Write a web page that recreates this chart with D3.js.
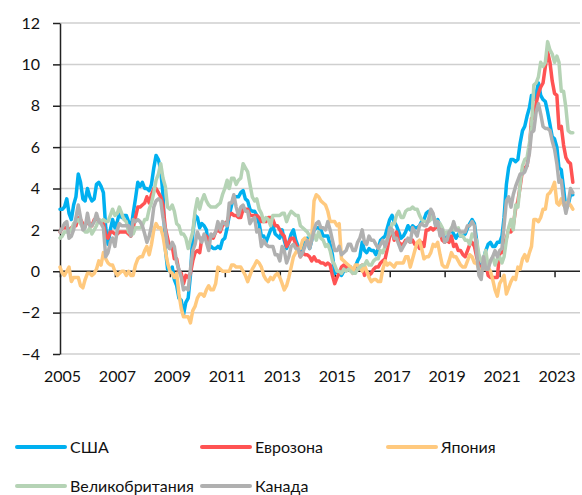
<!DOCTYPE html>
<html>
<head>
<meta charset="utf-8">
<script src="https://cdn.jsdelivr.net/npm/d3@7"></script>
<style>
  html, body { margin: 0; padding: 0; background: #fff; }
  svg { display: block; }
</style>
</head>
<body>
<div id="chart"></div>
<script>
// Monthly CPI, % y/y, from Jan 2005 to Sep 2023
const startYear = 2005;

const usa = [
  3.0, 3.0, 3.1, 3.5, 2.8, 2.5, 3.2, 3.6, 4.7, 4.3, 3.5, 3.4,
  4.0, 3.6, 3.4, 3.5, 4.2, 4.3, 4.1, 3.8, 2.1, 1.3, 2.0, 2.5,
  2.1, 2.4, 2.8, 2.6, 2.7, 2.7, 2.4, 2.0, 2.8, 3.5, 4.3, 4.1,
  4.3, 4.0, 4.0, 3.9, 4.2, 5.0, 5.6, 5.4, 4.9, 3.7, 1.1, 0.1,
  0.0, 0.2, -0.4, -0.7, -1.3, -1.4, -2.1, -1.5, -1.3, -0.2, 1.8, 2.7,
  2.6, 2.1, 2.3, 2.2, 2.0, 1.1, 1.2, 1.1, 1.1, 1.2, 1.1, 1.5,
  1.6, 2.1, 2.7, 3.2, 3.6, 3.6, 3.6, 3.8, 3.9, 3.5, 3.4, 3.0,
  2.9, 2.9, 2.7, 2.3, 1.7, 1.7, 1.4, 1.7, 2.0, 2.2, 1.8, 1.7,
  1.6, 2.0, 1.5, 1.1, 1.4, 1.8, 2.0, 1.5, 1.2, 1.0, 1.2, 1.5,
  1.6, 1.1, 1.5, 2.0, 2.1, 2.1, 2.0, 1.7, 1.7, 1.7, 1.3, 0.8,
  -0.1, 0.0, -0.1, -0.2, 0.0, 0.1, 0.2, 0.2, 0.0, 0.2, 0.5, 0.7,
  1.4, 1.0, 0.9, 1.1, 1.0, 1.0, 0.8, 1.1, 1.5, 1.6, 1.7, 2.1,
  2.5, 2.7, 2.4, 2.2, 1.9, 1.6, 1.7, 1.9, 2.2, 2.0, 2.2, 2.1,
  2.1, 2.2, 2.4, 2.5, 2.8, 2.9, 2.9, 2.7, 2.3, 2.5, 2.2, 1.9,
  1.6, 1.5, 1.9, 2.0, 1.8, 1.6, 1.8, 1.7, 1.7, 1.8, 2.1, 2.3,
  2.5, 2.3, 1.5, 0.3, 0.1, 0.6, 1.0, 1.3, 1.4, 1.2, 1.2, 1.4,
  1.4, 1.7, 2.6, 4.2, 5.0, 5.4, 5.4, 5.3, 5.4, 6.2, 6.8, 7.0,
  7.5, 7.9, 8.5, 8.3, 8.6, 9.1, 8.5, 8.3, 8.2, 7.7, 7.1, 6.5,
  6.4, 6.0, 5.0, 4.9, 4.0, 3.0, 3.2, 3.7, 3.7
];

const eurozone = [
  1.9, 2.1, 2.1, 2.1, 2.0, 2.1, 2.2, 2.2, 2.6, 2.5, 2.3, 2.2,
  2.4, 2.3, 2.2, 2.5, 2.5, 2.5, 2.4, 2.3, 1.7, 1.6, 1.9, 1.9,
  1.8, 1.8, 1.9, 1.9, 1.9, 1.9, 1.8, 1.7, 2.1, 2.6, 3.1, 3.1,
  3.2, 3.3, 3.6, 3.3, 3.7, 4.0, 4.0, 3.8, 3.6, 3.2, 2.1, 1.6,
  1.1, 1.2, 0.6, 0.6, 0.0, -0.1, -0.6, -0.2, -0.3, -0.1, 0.5, 0.9,
  1.0, 0.9, 1.6, 1.6, 1.7, 1.5, 1.7, 1.6, 1.9, 2.0, 1.9, 2.2,
  2.3, 2.4, 2.7, 2.8, 2.7, 2.7, 2.6, 2.6, 3.0, 3.0, 3.0, 2.7,
  2.7, 2.7, 2.7, 2.6, 2.4, 2.4, 2.4, 2.6, 2.6, 2.5, 2.2, 2.2,
  2.0, 1.8, 1.7, 1.2, 1.4, 1.6, 1.6, 1.3, 1.1, 0.7, 0.9, 0.8,
  0.8, 0.7, 0.5, 0.7, 0.5, 0.5, 0.4, 0.4, 0.3, 0.4, 0.3, -0.2,
  -0.6, -0.3, -0.1, 0.2, 0.3, 0.2, 0.2, 0.1, -0.1, 0.1, 0.1, 0.2,
  0.3, -0.2, 0.0, -0.2, -0.1, 0.1, 0.2, 0.2, 0.4, 0.5, 0.6, 1.1,
  1.7, 2.0, 1.5, 1.9, 1.4, 1.3, 1.3, 1.5, 1.5, 1.4, 1.5, 1.3,
  1.3, 1.1, 1.4, 1.2, 2.0, 2.0, 2.1, 2.0, 2.1, 2.3, 1.9, 1.5,
  1.4, 1.5, 1.4, 1.7, 1.2, 1.3, 1.0, 1.0, 0.8, 0.7, 1.0, 1.3,
  1.4, 1.2, 0.7, 0.3, 0.1, 0.3, 0.4, -0.2, -0.3, -0.3, -0.3, -0.3,
  0.9, 0.9, 1.3, 1.6, 2.0, 1.9, 2.2, 3.0, 3.4, 4.1, 4.9, 5.0,
  5.1, 5.9, 7.4, 7.4, 8.1, 8.6, 8.9, 9.1, 9.9, 10.6, 10.1, 9.2,
  8.6, 8.5, 6.9, 7.0, 6.1, 5.5, 5.3, 5.2, 4.3
];

const japan = [
  0.2, -0.1, -0.2, 0.0, 0.2, -0.5, -0.3, -0.3, -0.3, -0.7, -0.8, -0.4,
  -0.1, -0.1, -0.2, -0.1, 0.1, 0.5, 0.3, 0.9, 0.6, 0.4, 0.3, 0.3,
  0.0, -0.2, -0.1, 0.0, 0.0, -0.2, 0.0, -0.2, -0.2, 0.3, 0.6, 0.7,
  0.7, 1.0, 1.2, 0.8, 1.3, 2.0, 2.3, 2.1, 2.1, 1.7, 1.0, 0.4,
  0.0, -0.1, -0.3, -0.1, -1.1, -1.8, -2.2, -2.2, -2.2, -2.5, -1.9, -1.7,
  -1.3, -1.1, -1.1, -1.2, -0.9, -0.7, -0.9, -0.9, -0.6, 0.2, 0.1, 0.0,
  0.0, 0.0, 0.0, 0.3, 0.3, 0.2, 0.2, 0.2, 0.0, -0.2, -0.5, -0.2,
  0.1, 0.3, 0.5, 0.4, 0.2, -0.2, -0.4, -0.5, -0.3, -0.4, -0.2, -0.1,
  -0.3, -0.6, -0.9, -0.7, -0.3, 0.2, 0.7, 0.9, 1.1, 1.1, 1.5, 1.6,
  1.4, 1.5, 1.6, 3.4, 3.7, 3.6, 3.4, 3.3, 3.2, 2.9, 2.4, 2.4,
  2.4, 2.2, 2.3, 0.6, 0.5, 0.4, 0.3, 0.2, 0.0, 0.3, 0.3, 0.2,
  0.0, 0.3, 0.0, -0.3, -0.5, -0.4, -0.4, -0.5, -0.5, 0.1, 0.5, 0.3,
  0.4, 0.3, 0.2, 0.4, 0.4, 0.4, 0.4, 0.7, 0.7, 0.2, 0.6, 1.0,
  1.4, 1.5, 1.1, 0.6, 0.7, 0.7, 0.9, 1.3, 1.2, 1.4, 0.8, 0.3,
  0.2, 0.2, 0.5, 0.9, 0.7, 0.7, 0.5, 0.3, 0.2, 0.2, 0.5, 0.8,
  0.7, 0.4, 0.4, 0.1, 0.1, 0.1, 0.3, 0.2, 0.0, -0.4, -0.9, -1.2,
  -0.6, -0.4, -0.2, -1.1, -0.8, -0.5, -0.3, -0.4, 0.2, 0.1, 0.6, 0.8,
  0.5, 0.9, 1.2, 2.5, 2.5, 2.4, 2.6, 3.0, 3.0, 3.7, 3.8, 4.0,
  4.3, 3.3, 3.2, 3.5, 3.2, 3.3, 3.3, 3.2, 3.0
];

const uk = [
  1.6, 1.7, 1.9, 1.9, 1.9, 2.0, 2.3, 2.4, 2.5, 2.3, 2.1, 1.9,
  1.9, 2.1, 1.8, 2.0, 2.2, 2.5, 2.4, 2.5, 2.4, 2.4, 2.7, 3.0,
  2.7, 2.8, 3.1, 2.8, 2.5, 2.4, 1.9, 1.8, 1.8, 2.1, 2.1, 2.1,
  2.2, 2.5, 2.5, 3.0, 3.3, 3.8, 4.4, 4.7, 5.2, 4.5, 4.1, 3.1,
  3.0, 3.2, 2.9, 2.3, 2.2, 1.8, 1.8, 1.6, 1.1, 1.5, 1.9, 2.9,
  3.5, 3.0, 3.4, 3.7, 3.4, 3.2, 3.1, 3.1, 3.1, 3.2, 3.3, 3.7,
  4.0, 4.4, 4.0, 4.5, 4.5, 4.2, 4.4, 4.5, 5.2, 5.0, 4.8, 4.2,
  3.6, 3.4, 3.5, 3.0, 2.8, 2.4, 2.6, 2.5, 2.2, 2.7, 2.7, 2.7,
  2.7, 2.8, 2.8, 2.4, 2.7, 2.9, 2.8, 2.7, 2.7, 2.2, 2.1, 2.0,
  1.9, 1.7, 1.6, 1.8, 1.5, 1.9, 1.6, 1.5, 1.2, 1.3, 1.0, 0.5,
  0.3, 0.0, 0.0, -0.1, 0.1, 0.0, 0.1, 0.0, -0.1, -0.1, 0.1, 0.2,
  0.3, 0.3, 0.5, 0.3, 0.3, 0.5, 0.6, 0.6, 1.0, 0.9, 1.2, 1.6,
  1.8, 2.3, 2.3, 2.7, 2.9, 2.6, 2.6, 2.9, 3.0, 3.0, 3.1, 3.0,
  3.0, 2.7, 2.5, 2.4, 2.4, 2.4, 2.5, 2.7, 2.4, 2.4, 2.3, 2.1,
  1.8, 1.9, 1.9, 2.1, 2.0, 2.0, 2.1, 1.7, 1.7, 1.5, 1.5, 1.3,
  1.8, 1.7, 1.5, 0.8, 0.5, 0.6, 1.0, 0.2, 0.5, 0.7, 0.3, 0.6,
  0.7, 0.4, 0.7, 1.5, 2.1, 2.5, 2.0, 3.2, 3.1, 4.2, 5.1, 5.4,
  5.5, 6.2, 7.0, 9.0, 9.1, 9.4, 10.1, 9.9, 10.1, 11.1, 10.7, 10.5,
  10.1, 10.4, 10.1, 8.7, 8.7, 7.9, 6.8, 6.7, 6.7
];

const canada = [
  1.9, 2.1, 2.3, 2.4, 1.6, 1.7, 2.0, 2.6, 3.2, 2.6, 2.0, 2.1,
  2.8, 2.2, 2.2, 2.4, 2.8, 2.4, 2.3, 2.1, 0.7, 0.9, 1.4, 1.6,
  1.2, 2.0, 2.3, 2.2, 2.2, 2.2, 2.2, 1.7, 2.5, 2.4, 2.5, 2.4,
  2.2, 1.8, 1.4, 1.7, 2.2, 3.1, 3.4, 3.5, 3.4, 2.6, 2.0, 1.2,
  1.1, 1.4, 1.2, 0.4, 0.1, -0.3, -0.9, -0.8, -0.9, 0.1, 1.0, 1.3,
  1.9, 1.6, 1.4, 1.8, 1.4, 1.0, 1.8, 1.7, 1.9, 2.4, 2.0, 2.4,
  2.3, 2.2, 3.3, 3.3, 3.7, 3.1, 2.7, 3.1, 3.2, 2.9, 2.9, 2.3,
  2.5, 2.6, 1.9, 2.0, 1.2, 1.5, 1.3, 1.2, 1.2, 1.2, 0.8, 0.8,
  0.5, 1.2, 1.0, 0.4, 0.7, 1.2, 1.3, 1.1, 1.1, 0.7, 0.9, 1.2,
  1.5, 1.1, 1.5, 2.0, 2.3, 2.4, 2.1, 2.1, 2.0, 2.4, 2.0, 1.5,
  1.0, 1.0, 1.2, 0.8, 0.9, 1.0, 1.3, 1.3, 1.0, 1.0, 1.4, 1.6,
  2.0, 1.4, 1.3, 1.7, 1.5, 1.5, 1.3, 1.1, 1.3, 1.5, 1.2, 1.5,
  2.1, 2.0, 1.6, 1.6, 1.3, 1.0, 1.2, 1.4, 1.6, 1.4, 2.1, 1.9,
  1.7, 2.2, 2.3, 2.2, 2.2, 2.5, 3.0, 2.8, 2.2, 2.4, 1.7, 2.0,
  1.4, 1.5, 1.9, 2.0, 2.4, 2.0, 2.0, 1.9, 1.9, 1.9, 2.2, 2.2,
  2.4, 2.2, 0.9, -0.2, -0.4, 0.7, 0.1, 0.1, 0.5, 0.7, 1.0, 0.7,
  1.0, 1.1, 2.2, 3.4, 3.6, 3.1, 3.7, 4.1, 4.4, 4.7, 4.7, 4.8,
  5.1, 5.7, 6.7, 6.8, 7.7, 8.1, 7.6, 7.0, 6.9, 6.9, 6.8, 6.3,
  5.9, 5.2, 4.3, 4.4, 3.4, 2.8, 3.3, 4.0, 3.8
];

const seriesNames = ['США', 'Еврозона', 'Япония', 'Великобритания', 'Канада'];
const seriesValues = [usa, eurozone, japan, uk, canada];
const seriesColors = ['#00B0F0', '#FF5353', '#FFC97E', '#B5D3B5', '#B0B0B0'];

const yTicks = [-4, -2, 0, 2, 4, 6, 8, 10, 12];
const xTickYears = [2005, 2007, 2009, 2011, 2013, 2015, 2017, 2019, 2021, 2023];

const width = 582;
const height = 495;
const margin = { top: 23, right: 0, bottom: 141, left: 60 };

const svg = d3.select('#chart')
  .append('svg')
  .attr('width', width)
  .attr('height', height)
  .style('font-family', 'Lato, "Open Sans", sans-serif');

const x = d3.scaleTime()
  .domain([new Date(startYear, 0, 1), new Date(2024, 0, 1)])
  .range([margin.left, width - margin.right]);

const y = d3.scaleLinear()
  .domain([-4, 12])
  .range([height - margin.bottom, margin.top]);

// horizontal grid
svg.append('g')
  .selectAll('line')
  .data(yTicks.filter(d => d !== 0))
  .enter()
  .append('line')
  .attr('x1', margin.left)
  .attr('x2', 580)
  .attr('y1', d => y(d))
  .attr('y2', d => y(d))
  .attr('stroke', '#cfcfcf')
  .attr('stroke-width', 1.5);

// y axis
const yAxis = svg.append('g')
  .attr('transform', `translate(${margin.left},0)`)
  .call(d3.axisLeft(y).tickValues(yTicks).tickSize(7).tickPadding(13).tickSizeOuter(0));
yAxis.select('.domain').attr('stroke', '#222').attr('stroke-width', 1.5);
yAxis.selectAll('.tick line').attr('stroke', '#222').attr('stroke-width', 1.5);
yAxis.selectAll('.tick text')
  .attr('font-size', '16px')
  .attr('font-family', 'Lato, "Open Sans", sans-serif')
  .attr('fill', '#111');

// zero line with year ticks
const tickDates = xTickYears.map(yr => new Date(yr, 0, 1));
const zeroAxis = svg.append('g')
  .attr('transform', `translate(0,${y(0)})`)
  .call(d3.axisBottom(x).tickValues(tickDates).tickSize(6).tickFormat('').tickSizeOuter(0));
zeroAxis.select('.domain').attr('stroke', '#222').attr('stroke-width', 1.5)
  .attr('d', `M${margin.left},0H580`);
zeroAxis.selectAll('.tick line').attr('stroke', '#222').attr('stroke-width', 1.5);

// year labels under the plot
const labelAxis = svg.append('g')
  .attr('transform', `translate(2,${y(-4) + 14})`)
  .call(d3.axisBottom(x).tickValues(tickDates).tickSize(0).tickFormat(d3.timeFormat('%Y')));
labelAxis.select('.domain').remove();
labelAxis.selectAll('.tick text')
  .attr('font-size', '16px')
  .attr('font-family', 'Lato, "Open Sans", sans-serif')
  .attr('fill', '#111');

// lines
const line = d3.line()
  .x((d, i) => x(new Date(startYear, i, 1)))
  .y(d => y(d));

svg.append('g')
  .selectAll('path')
  .data(seriesValues)
  .enter()
  .append('path')
  .attr('d', d => line(d))
  .attr('fill', 'none')
  .attr('stroke', (d, i) => seriesColors[i])
  .attr('stroke-width', 3.5)
  .attr('stroke-linejoin', 'round')
  .attr('stroke-linecap', 'round');

// legend
const legendPos = [[17, 447], [202, 447], [388, 447], [17, 486], [202, 486]];
const legend = svg.append('g')
  .selectAll('g')
  .data(seriesNames)
  .enter()
  .append('g')
  .attr('transform', (d, i) => `translate(${legendPos[i][0]},${legendPos[i][1]})`);

legend.append('line')
  .attr('x1', 0)
  .attr('x2', 48)
  .attr('stroke', (d, i) => seriesColors[i])
  .attr('stroke-width', 4)
  .attr('stroke-linecap', 'round');

legend.append('text')
  .attr('x', 53)
  .attr('dy', '0.35em')
  .attr('font-size', '16px')
  .attr('fill', '#111')
  .text(d => d);
</script>
</body>
</html>
